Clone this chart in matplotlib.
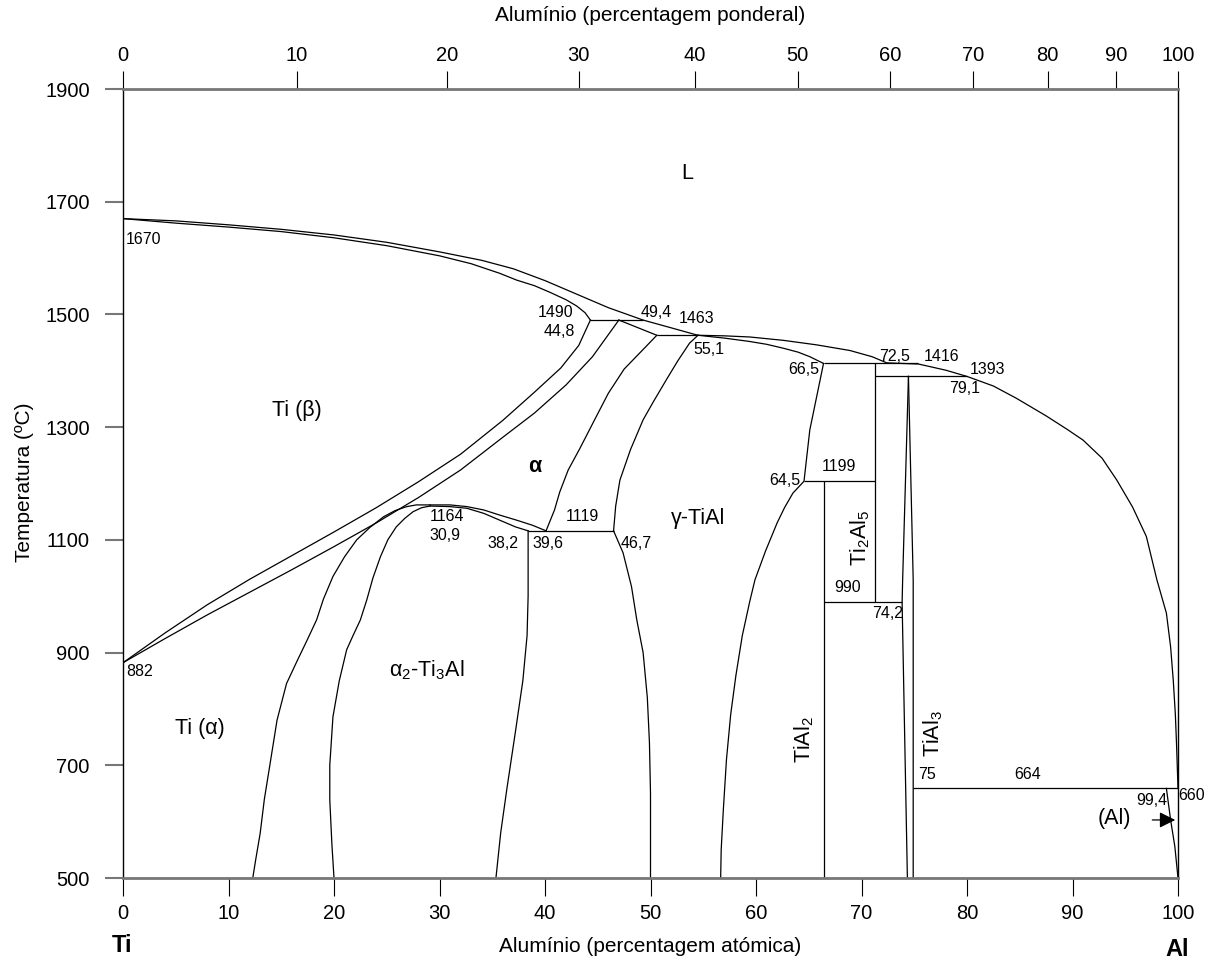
import matplotlib.pyplot as plt

plt.rcParams['font.family'] = ['Liberation Sans', 'DejaVu Sans']
plt.rcParams['mathtext.fontset'] = 'custom'
plt.rcParams['mathtext.rm'] = 'Liberation Sans'
plt.rcParams['mathtext.default'] = 'regular'

# fronteiras de fase: (% atomica de Al, temperatura ºC)
liq_ti_x = [0, 5, 10, 15, 20, 25, 30, 34, 37, 40, 43, 46, 49.3, 52, 54.5]
liq_ti_t = [1670, 1666, 1659, 1651, 1641, 1628, 1611, 1596, 1581, 1560, 1536,
            1512, 1490, 1476, 1463]
sol_b_x = [0, 5, 10, 15, 20, 25, 30, 33, 35.7, 37.3, 39, 40.5, 42, 43, 43.8, 44.3]
sol_b_t = [1670, 1662, 1655, 1647, 1636, 1622, 1604, 1590, 1573, 1561, 1551,
           1539, 1526, 1515, 1503, 1490]
transus_b_x = [0, 4, 8, 12, 16, 20, 24, 28, 32, 36, 39, 41.5, 43.2, 44.3]
transus_b_t = [882, 935, 985, 1030, 1072, 1114, 1157, 1203, 1252, 1312, 1362,
               1405, 1445, 1490]
transus_a_x = [0, 4, 8, 12, 16, 20, 24, 28, 32, 36, 39, 42, 44.5, 47.0]
transus_a_t = [882, 925, 967, 1007, 1047, 1088, 1130, 1175, 1224, 1282, 1325,
               1375, 1425, 1490]
a_liq_x = [47.0, 50.6]
a_liq_t = [1490, 1463]
a_g_x = [50.6, 49.0, 47.5, 46.0, 44.7, 43.3, 42.2, 41.4, 40.9, 40.1]
a_g_t = [1463, 1432, 1403, 1360, 1313, 1262, 1224, 1185, 1153, 1116]
g_a_x = [54.5, 53.7, 52.6, 51.5, 50.3, 49.3, 48.1, 47.1, 46.7, 46.5]
g_a_t = [1463, 1449, 1418, 1384, 1346, 1313, 1260, 1206, 1160, 1116]
g_a2_x = [46.5, 47.4, 48.2, 48.7, 49.3, 49.7, 49.9, 50.0, 50.0]
g_a2_t = [1116, 1077, 1017, 958, 900, 820, 740, 650, 500]
a2_g_x = [38.4, 38.4, 38.3, 37.9, 37.2, 36.4, 35.8, 35.35]
a2_g_t = [1116, 1000, 930, 850, 760, 660, 580, 500]
lens_up_x = [29.1, 31.0, 32.6, 34.2, 35.7, 37.3, 38.8, 40.1]
lens_up_t = [1162, 1162, 1159, 1153, 1144, 1135, 1126, 1116]
lens_lo_x = [29.1, 31.0, 32.6, 34.2, 35.7, 37.2, 38.4]
lens_lo_t = [1160, 1159, 1156, 1147, 1135, 1123, 1116]
a_a2_x = [29.1, 27.8, 26.9, 25.8, 24.7, 23.4, 22.15, 21.0, 19.9, 19.0, 18.35,
          17.4, 16.5, 15.5, 14.6, 13.9, 13.4, 13.0, 12.6, 12.3]
a_a2_t = [1162, 1162, 1159, 1152, 1141, 1122, 1100, 1070, 1035, 995, 958,
          920, 885, 845, 780, 698, 640, 579, 535, 500]
a2_a_x = [29.1, 28.3, 27.5, 26.7, 25.9, 25.1, 24.4, 23.7, 23.1, 22.5, 21.8,
          21.2, 20.5, 19.9, 19.6, 19.6, 19.8, 20.0]
a2_a_t = [1160, 1157, 1150, 1138, 1123, 1100, 1070, 1033, 993, 958, 930,
          905, 850, 786, 700, 639, 560, 500]
liq_al_x = [54.5, 57, 59.4, 62.6, 65.75, 68.9, 71, 72.4, 75.4, 78, 80, 82.5,
            84.7, 87.5, 89.5, 91, 92.8, 94.2, 95.7, 97, 98, 98.9, 99.3, 99.55,
            99.75, 99.87, 100]
liq_al_t = [1463, 1462, 1460, 1454, 1446, 1436, 1425, 1414, 1412, 1401, 1390,
            1373, 1351, 1320, 1296, 1277, 1245, 1206, 1158, 1106, 1029, 970,
            910, 851, 790, 733, 659]
sol_g_x = [54.5, 57, 59.4, 61, 62.6, 64, 65.1, 66.4]
sol_g_t = [1463, 1458, 1452, 1447, 1440, 1433, 1425, 1413]
g_r_x = [66.4, 65.75, 65.1, 64.55, 63.5, 62.7, 62.0, 60.9, 59.9, 59.4, 58.7,
         58.1, 57.6, 57.2, 56.9, 56.7, 56.65]
g_r_t = [1413, 1354, 1295, 1204, 1183, 1157, 1130, 1080, 1029, 990, 930,
         860, 790, 710, 620, 550, 500]
tial3_l_x = [74.45, 73.9, 73.85, 74.35]
tial3_l_t = [1390, 1029, 989, 500]
tial3_r_x = [74.45, 74.9, 74.9]
tial3_r_t = [1390, 1029, 500]
al_sol_x = [98.9, 99.3, 99.7, 100]
al_sol_t = [659, 603, 556, 500]

# isotermicas (T, x inicial, x final) e linhas verticais (x, T inicial, T final)
iso_t = [1490, 1463, 1413, 1390, 1204, 989, 1116, 659]
iso_x0 = [44.3, 50.6, 66.4, 71.3, 64.55, 66.4, 38.4, 74.9]
iso_x1 = [49.3, 54.5, 75.4, 80.0, 71.3, 73.85, 46.5, 100]
vert_x = [71.3, 66.4]
vert_t0 = [989, 500]
vert_t1 = [1413, 1204]

fig = plt.figure(figsize=(12.1, 9.65), dpi=100)
ax = fig.add_axes([123 / 1210, 1 - 878 / 965, 1055 / 1210, 789 / 965])
ax.set_xlim(0, 100)
ax.set_ylim(500, 1900)

curves = [(liq_ti_x, liq_ti_t), (sol_b_x, sol_b_t), (transus_b_x, transus_b_t),
          (transus_a_x, transus_a_t), (a_liq_x, a_liq_t), (a_g_x, a_g_t),
          (g_a_x, g_a_t), (g_a2_x, g_a2_t), (a2_g_x, a2_g_t),
          (lens_up_x, lens_up_t), (lens_lo_x, lens_lo_t), (a_a2_x, a_a2_t),
          (a2_a_x, a2_a_t), (liq_al_x, liq_al_t), (sol_g_x, sol_g_t),
          (g_r_x, g_r_t), (tial3_l_x, tial3_l_t), (tial3_r_x, tial3_r_t),
          (al_sol_x, al_sol_t)]
for xs, ts in curves:
    ax.plot(xs, ts, color='black', lw=0.9, solid_joinstyle='round')
ax.hlines(iso_t, iso_x0, iso_x1, color='black', lw=0.9)
ax.vlines(vert_x, vert_t0, vert_t1, color='black', lw=0.9)

ax.annotate('', xy=(100, 603), xytext=(97.3, 603),
            arrowprops=dict(arrowstyle='-|>', color='black', lw=0.9,
                            mutation_scale=24))

# eixos
ax.set_xticks(range(0, 101, 10))
ax.set_yticks(range(500, 1901, 200))
ax.tick_params(axis='both', labelsize=14.5, length=13, direction='out')
ax.tick_params(axis='y', pad=11, color='#777777', width=1.5)
ax.tick_params(axis='x', pad=6)
for s in ['bottom', 'top']:
    ax.spines[s].set_color('#777777')
    ax.spines[s].set_linewidth(2)
for s in ['left', 'right']:
    ax.spines[s].set_linewidth(1)

def at2wt(a):
    return 100 * a * 26.98 / (a * 26.98 + (100 - a) * 47.87 + 1e-12)

def wt2at(w):
    return 100 * (w / 26.98) / (w / 26.98 + (100 - w) / 47.87 + 1e-12)

top = ax.secondary_xaxis('top', functions=(at2wt, wt2at))
top.set_xticks(range(0, 101, 10))
top.tick_params(labelsize=14.5, length=13, pad=4)
top.spines['top'].set_visible(False)
top.set_xlabel('Alumínio (percentagem ponderal)', fontsize=15, labelpad=18)

ax.set_xlabel('Alumínio (percentagem atómica)', fontsize=15, labelpad=10)
fig.text(25 / 1210, 0.5, 'Temperatura (ºC)', rotation=90, fontsize=15,
         ha='center', va='center')
fig.text(122 / 1210, 1 - 945 / 965, 'Ti', fontsize=17, fontweight='bold',
         ha='center', va='center')
fig.text(1177 / 1210, 1 - 950 / 965, 'Al', fontsize=17, fontweight='bold',
         ha='center', va='center')

# anotacoes numericas
nums = [('1670', 1.9, 1633), ('882', 1.6, 867), ('1490', 41.0, 1504),
        ('44,8', 41.4, 1469), ('49,4', 50.5, 1504), ('1463', 54.4, 1493),
        ('55,1', 55.5, 1437), ('66,5', 64.5, 1403), ('72,5', 73.1, 1426),
        ('1416', 77.6, 1426), ('1393', 81.9, 1403), ('79,1', 79.8, 1369),
        ('1199', 67.9, 1230), ('64,5', 62.7, 1206), ('1164', 30.7, 1141),
        ('30,9', 30.5, 1107), ('38,2', 36.0, 1094), ('39,6', 40.3, 1094),
        ('1119', 43.5, 1141), ('46,7', 48.6, 1094), ('990', 68.7, 1015),
        ('74,2', 72.5, 970), ('75', 76.2, 683), ('664', 85.7, 683),
        ('99,4', 97.5, 638), ('660', 101.3, 647)]
for s, x, t in nums:
    ax.text(x, t, s, fontsize=11.5, ha='center', va='center', clip_on=False)

regions = [('L', 53.5, 1750, 0, 'normal'), ('Ti (β)', 16.5, 1330, 0, 'normal'),
           ('α', 39.05, 1230, 0, 'bold'), ('γ-TiAl', 54.5, 1138, 0, 'normal'),
           ('α$_2$-Ti$_3$Al', 28.8, 869, 0, 'normal'),
           ('Ti (α)', 7.3, 766, 0, 'normal'), ('(Al)', 94.0, 606, 0, 'normal'),
           ('TiAl$_2$', 64.6, 745, 90, 'normal'),
           ('TiAl$_3$', 76.8, 757, 90, 'normal'),
           ('Ti$_2$Al$_5$', 69.9, 1103, 90, 'normal')]
for s, x, t, r, w in regions:
    ax.text(x, t, s, fontsize=15.5, fontweight=w, ha='center', va='center',
            rotation=r)

fig.savefig('out.png', dpi=100)
